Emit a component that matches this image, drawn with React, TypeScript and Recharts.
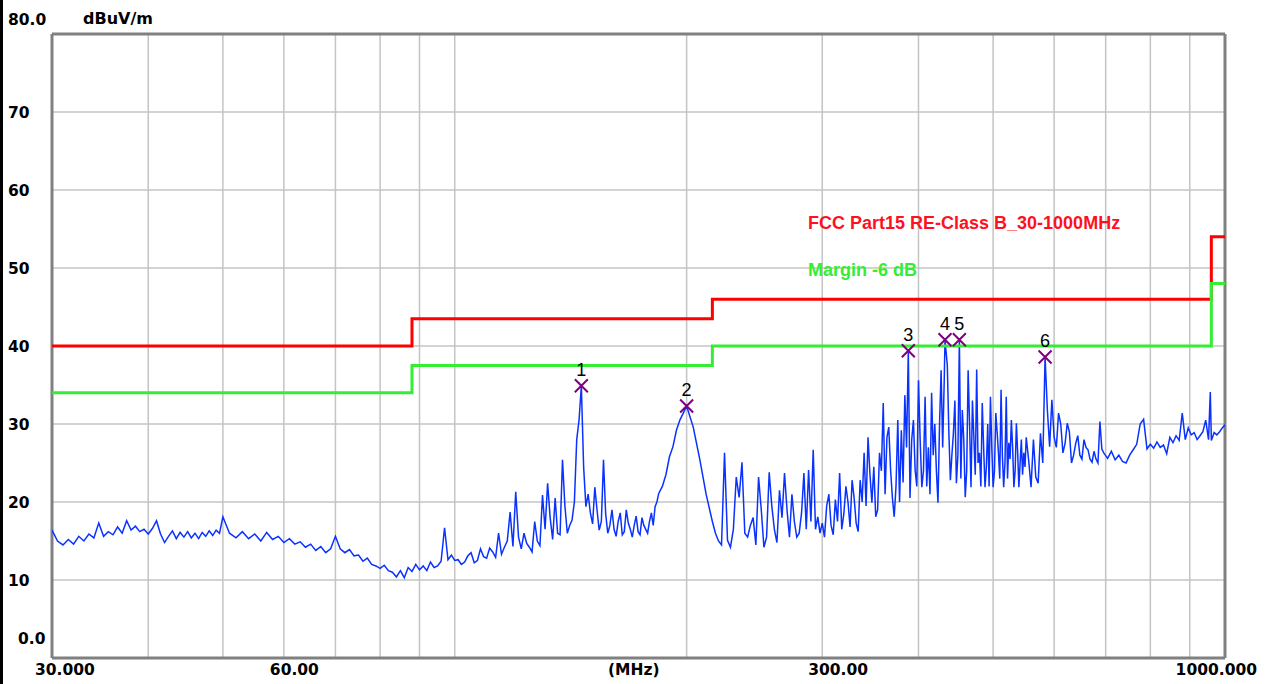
import {
  CartesianGrid,
  ComposedChart,
  Line,
  ReferenceLine,
  Scatter,
  XAxis,
  YAxis,
} from "recharts";

// frequency grid (MHz) for vertical gridlines, labelled ones below
const gridMHz = [30, 40, 50, 60, 70, 80, 90, 100, 200, 300, 400, 500, 600, 700, 800, 900, 1000];
const xLabels: Record<number, string> = { 30: "30.000", 60: "60.00", 300: "300.00", 1000: "1000.000" };
const yTicks = [0, 10, 20, 30, 40, 50, 60, 70, 80];
const yLabels: Record<number, string> = { 0: "0.0", 80: "80.0" };

// FCC Part15 class B limit and -6 dB margin (step after each frequency)
const limitMHz = [30, 88, 216, 960, 1000];
const limitDb = [40, 43.5, 46, 54, 54];
const marginDb = [34, 37.5, 40, 48, 48];

// peak markers
const markerIds = ["1", "2", "3", "4", "5", "6"];
const markerMHz = [146, 200, 388, 433, 452, 584];
const markerDb = [34.9, 32.3, 39.4, 40.8, 40.8, 38.6];

// measured trace [MHz, dBuV/m]
const trace: [number, number][] = [
  // 30 - 50 MHz
  [30, 16.4], [30.5, 15.0], [31, 14.5], [31.5, 15.2], [32, 14.6], [32.5, 15.6], [33, 15.0], [33.5, 15.9],
  [34, 15.4], [34.5, 17.3], [35, 15.6], [35.5, 16.2], [36, 15.8], [36.5, 16.8], [37, 16.0], [37.5, 17.6],
  [38, 16.4], [38.5, 16.9], [39, 16.2], [39.5, 16.5], [40, 15.9], [40.5, 16.6], [41, 17.6], [41.5, 15.9],
  [42, 14.8], [42.5, 15.6], [43, 16.3], [43.5, 15.3], [44, 16.1], [44.5, 15.5], [45, 16.2], [45.5, 15.4],
  [46, 16.0], [46.5, 15.3], [47, 16.1], [47.5, 15.6], [48, 16.3], [48.5, 15.7], [49, 16.4], [49.5, 16.0],
  [50, 18.1],
  // 51 - 100 MHz
  [51, 16.0], [52, 15.4], [53, 16.2], [54, 15.3], [55, 15.9], [56, 15.0], [57, 16.1], [58, 15.2],
  [59, 15.6], [60, 14.8], [61, 15.3], [62, 14.6], [63, 14.9], [64, 14.2], [65, 14.6], [66, 13.8],
  [67, 14.3], [68, 13.5], [69, 14.0], [70, 15.6], [71, 14.0], [72, 13.5], [73, 13.9], [74, 13.1],
  [75, 13.2], [76, 12.4], [77, 12.8], [78, 12.0], [79, 11.8], [80, 11.5], [81, 11.9], [82, 11.2],
  [83, 11.0], [84, 10.4], [85, 11.2], [86, 10.3], [87, 11.6], [88, 11.1], [89, 12.0], [90, 11.3],
  [91, 11.8], [92, 11.2], [93, 12.3], [94, 11.6], [95, 11.8], [96, 12.4], [97, 16.7], [98, 12.6],
  [99, 13.2], [100, 12.5],
  // 101 - 200 MHz
  [101, 12.6], [102, 12.0], [103, 12.3], [104, 13.1], [105, 13.5], [106, 12.2], [107, 12.5], [108, 14.0],
  [109, 13.0], [110, 12.8], [111, 14.1], [112, 13.6], [113, 12.9], [114, 16.0], [115, 13.3], [116, 14.2],
  [117, 15.0], [118, 18.7], [119, 14.3], [120, 21.3], [121, 15.5], [122, 14.0], [123, 16.0], [124, 14.7],
  [125, 14.2], [126, 13.6], [127, 17.5], [128, 15.0], [129, 14.4], [130, 20.9], [131, 16.5], [132, 22.4],
  [133, 18.0], [134, 15.2], [135, 20.5], [136, 16.0], [137, 15.8], [138, 25.4], [139, 19.5], [140, 16.0],
  [141, 17.0], [142, 17.7], [143, 20.0], [144, 28.0], [145, 30.5], [146, 34.9], [147, 24.5], [148, 19.4],
  [149, 21.0], [150, 18.6], [151, 17.2], [152, 21.9], [153, 19.0], [154, 16.4], [155, 17.5], [156, 25.4],
  [157, 18.5], [158, 16.0], [159, 17.0], [160, 19.0], [161, 16.5], [162, 15.6], [163, 17.5], [164, 18.6],
  [165, 15.8], [166, 16.2], [167, 19.0], [168, 17.3], [169, 16.5], [170, 15.5], [171, 17.0], [172, 18.2],
  [173, 16.2], [174, 15.8], [175, 18.0], [176, 17.0], [177, 16.5], [178, 16.0], [179, 17.5], [180, 18.6],
  [181, 17.0], [182, 19.4], [183, 20.0], [184, 21.1], [186, 22.0], [188, 23.5], [190, 25.8], [192, 27.1],
  [194, 29.2], [196, 30.5], [198, 31.4], [200, 32.3],
  // 204 - 400 MHz
  [204, 29.6], [208, 25.5], [212, 21.0], [216, 17.5], [218, 16.0], [220, 15.0], [222, 14.5], [224, 26.3],
  [226, 15.1], [228, 14.2], [230, 16.5], [232, 23.2], [234, 20.6], [236, 25.1], [238, 16.0], [240, 15.5],
  [242, 17.0], [244, 18.0], [246, 14.5], [248, 23.2], [250, 19.0], [252, 14.2], [254, 15.5], [256, 23.8],
  [258, 19.5], [260, 16.5], [262, 14.8], [264, 21.5], [266, 18.0], [268, 23.7], [270, 19.0], [272, 15.5],
  [274, 21.0], [276, 17.5], [278, 15.5], [280, 16.0], [282, 18.6], [284, 23.7], [286, 16.5], [288, 24.1],
  [290, 17.5], [292, 26.7], [294, 16.5], [296, 18.1], [298, 16.0], [300, 17.3], [302, 15.5], [304, 19.5],
  [306, 21.0], [308, 17.0], [310, 15.8], [312, 20.3], [314, 17.5], [316, 23.7], [318, 16.5], [320, 18.5],
  [322, 22.0], [324, 20.0], [326, 16.8], [328, 22.8], [330, 20.5], [332, 17.3], [334, 16.2], [336, 22.8],
  [338, 20.0], [340, 26.3], [342, 19.5], [344, 28.3], [346, 23.5], [348, 19.9], [350, 24.5], [352, 18.1],
  [354, 19.0], [356, 26.3], [358, 24.0], [360, 32.7], [362, 21.0], [364, 28.3], [366, 29.6], [368, 24.1],
  [370, 20.5], [372, 18.1], [374, 22.0], [376, 30.5], [378, 20.0], [380, 29.2], [382, 22.5], [384, 33.7],
  [386, 27.0], [388, 39.4], [390, 20.5], [392, 28.0], [394, 30.5], [396, 24.1], [398, 22.0], [400, 35.6],
  // 402 - 600 MHz
  [402, 28.0], [404, 21.9], [406, 24.0], [408, 33.5], [410, 22.0], [412, 27.0], [414, 21.0], [416, 34.0],
  [418, 26.0], [420, 30.0], [422, 24.0], [424, 19.9], [426, 30.0], [428, 36.9], [430, 27.0], [432, 35.6],
  [433, 40.8], [436, 37.5], [438, 29.0], [440, 22.8], [442, 26.0], [444, 28.8], [446, 33.0], [448, 22.4],
  [450, 26.0], [452, 40.8], [454, 23.0], [456, 31.8], [458, 28.0], [460, 20.6], [462, 24.0], [464, 36.9],
  [466, 30.0], [468, 21.9], [470, 33.0], [472, 28.3], [474, 23.5], [476, 37.0], [478, 25.0], [480, 26.3],
  [482, 22.0], [484, 32.7], [486, 27.0], [488, 21.9], [490, 24.5], [492, 30.0], [494, 22.0], [496, 33.5],
  [498, 27.0], [500, 21.9], [502, 24.0], [504, 31.4], [506, 29.0], [508, 26.3], [510, 23.0], [512, 34.4],
  [514, 26.0], [516, 21.9], [518, 25.0], [520, 33.5], [522, 23.0], [524, 27.6], [526, 25.5], [528, 30.5],
  [530, 27.0], [532, 21.9], [534, 24.0], [536, 30.1], [538, 26.5], [540, 21.9], [542, 25.0], [544, 28.0],
  [546, 23.5], [548, 26.3], [550, 24.5], [552, 28.3], [556, 25.4], [560, 21.9], [564, 28.0], [568, 23.2],
  [572, 22.4], [576, 28.8], [580, 25.0], [584, 38.6], [588, 31.8], [592, 27.1], [596, 33.1], [600, 28.3],
  // 604 - 1000 MHz
  [604, 27.0], [608, 31.4], [612, 30.0], [616, 26.3], [620, 27.5], [624, 30.1], [628, 29.0], [632, 25.0],
  [636, 26.0], [640, 27.5], [644, 28.5], [648, 26.0], [652, 25.5], [656, 28.0], [660, 27.0], [664, 26.7],
  [668, 25.5], [672, 25.1], [676, 26.5], [680, 25.5], [684, 25.0], [688, 30.3], [692, 26.8], [696, 26.3],
  [704, 25.6], [712, 26.5], [720, 25.4], [728, 26.0], [736, 25.2], [744, 25.0], [752, 26.0], [760, 26.7],
  [768, 27.4], [776, 30.0], [784, 30.6], [792, 26.8], [800, 27.4], [808, 26.9], [816, 27.7], [824, 27.0],
  [832, 27.3], [840, 26.2], [848, 28.3], [856, 27.6], [864, 28.5], [872, 27.9], [880, 31.4], [888, 28.0],
  [896, 29.5], [904, 28.6], [912, 28.9], [920, 28.0], [928, 28.5], [936, 29.0], [944, 30.5], [952, 28.0],
  [957, 34.1], [960, 27.9], [968, 28.9], [976, 28.6], [984, 29.0], [992, 29.5], [1000, 29.9],
];

const traceData = trace.map(([f, v]) => ({ f, v }));
const limitData = limitMHz.map((f, i) => ({ f, v: limitDb[i] }));
const marginData = limitMHz.map((f, i) => ({ f, v: marginDb[i] }));
const markerData = markerMHz.map((f, i) => ({ f, v: markerDb[i], id: markerIds[i] }));

const axisFont = { fontFamily: "DejaVu Sans", fontWeight: 700, fontSize: 15.5, fill: "#000" };
const legendFont = { fontFamily: "Liberation Sans", fontWeight: 700, fontSize: 18 };

const XTick = (props: any) => {
  const { x, payload } = props;
  const label = xLabels[payload.value];
  if (!label) return <g />;
  const dx = payload.value === 30 ? -17 : payload.value === 1000 ? 32 : -14;
  const anchor = payload.value === 1000 ? "end" : "start";
  return (
    <text x={x + dx} y={675} textAnchor={anchor} style={axisFont}>
      {label}
    </text>
  );
};

const YTick = (props: any) => {
  const { y, payload } = props;
  const v = payload.value;
  const label = yLabels[v] ?? String(v);
  const dy = v === 80 ? -9 : v === 0 ? -14 : 5.5;
  return (
    <text x={v === 0 ? 18 : 8} y={y + dy} textAnchor="start" style={axisFont}>
      {label}
    </text>
  );
};

const Marker = (props: any) => {
  const { cx, cy, payload } = props;
  const s = 6.5;
  return (
    <g>
      <path
        d={`M${cx - s},${cy - s}L${cx + s},${cy + s}M${cx + s},${cy - s}L${cx - s},${cy + s}`}
        stroke="#800080"
        strokeWidth={2}
      />
      <text
        x={cx}
        y={cy - 10}
        textAnchor="middle"
        style={{ fontFamily: "Liberation Sans", fontSize: 18, fill: "#000" }}
      >
        {payload.id}
      </text>
    </g>
  );
};

export default function App() {
  return (
    <div style={{ position: "absolute", left: 0, top: 0, width: 1268, height: 684, background: "#fff" }}>
      <ComposedChart
        width={1268}
        height={684}
        margin={{ top: 34, right: 43, bottom: 0, left: 0 }}
      >
        <CartesianGrid stroke="#c4c4c4" strokeWidth={1.5} verticalValues={gridMHz} horizontalValues={yTicks} />
        <XAxis
          dataKey="f"
          type="number"
          scale="log"
          domain={[30, 1000]}
          ticks={gridMHz}
          allowDataOverflow
          height={26}
          axisLine={false}
          tickLine={false}
          tick={<XTick />}
          interval={0}
        />
        <YAxis
          type="number"
          domain={[0, 80]}
          ticks={yTicks}
          width={52}
          axisLine={false}
          tickLine={false}
          tick={<YTick />}
          interval={0}
        />
        <ReferenceLine x={30} stroke="#808080" strokeWidth={3} />
        <ReferenceLine x={1000} stroke="#808080" strokeWidth={3} />
        <ReferenceLine y={0} stroke="#808080" strokeWidth={3} />
        <ReferenceLine y={80} stroke="#808080" strokeWidth={3} />
        <Line
          data={traceData}
          dataKey="v"
          type="linear"
          stroke="#0a32ff"
          strokeWidth={1.5}
          dot={false}
          isAnimationActive={false}
        />
        <Line
          data={limitData}
          dataKey="v"
          type="stepAfter"
          stroke="#ff0000"
          strokeWidth={3}
          dot={false}
          isAnimationActive={false}
        />
        <Line
          data={marginData}
          dataKey="v"
          type="stepAfter"
          stroke="#33ee33"
          strokeWidth={3}
          dot={false}
          isAnimationActive={false}
        />
        <Scatter data={markerData} dataKey="v" shape={<Marker />} isAnimationActive={false} />
      </ComposedChart>
      <svg
        width={1268}
        height={684}
        style={{ position: "absolute", left: 0, top: 0, pointerEvents: "none" }}
      >
        <rect x={0} y={0} width={3} height={684} fill="#000" />
        <text x={83} y={24} style={{ ...axisFont, fontSize: 16 }}>dBuV/m</text>
        <text x={608} y={675} style={axisFont}>(MHz)</text>
        <text x={808} y={229} fill="#ff1020" style={legendFont}>FCC Part15 RE-Class B_30-1000MHz</text>
        <text x={808} y={276} fill="#33ee33" style={legendFont}>Margin -6 dB</text>
      </svg>
    </div>
  );
}
